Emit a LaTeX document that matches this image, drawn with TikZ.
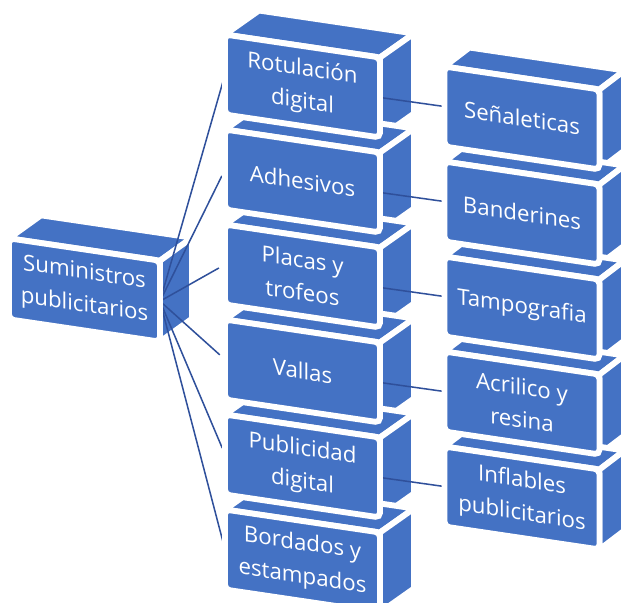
\documentclass[tikz,border=0pt]{standalone}
\usepackage{fontspec}
\setmainfont{Open Sans}
\usepackage{xcolor}
\usetikzlibrary{backgrounds, calc}

\definecolor{azul}{RGB}{68,114,196}
\definecolor{azulescuro}{RGB}{47,80,155}

% faces de cima e do lado de uma caixa
\newcommand{\cubo}[2]{%
  \path[cara] (#1.north west) -- (#1.north east) -- ++(#2) -- ($(#1.north west)+(#2)$) -- cycle;
  \path[cara] (#1.north east) -- ++(#2) -- ($(#1.south east)+(#2)$) -- (#1.south east) -- cycle;
}

\begin{document}
\begin{tikzpicture}[x=0.03cm, y=-0.03cm,
    every node/.style={font=\fontsize{19}{28}\selectfont, text=white}
  ]
  \tikzset{
    frente/.style={fill=azul, draw=white, line width=5pt, rounded corners=4pt, outer sep=0pt,
      inner sep=0pt, align=center, yslant=-0.148, minimum width=4.65cm, minimum height=2.4cm},
    cara/.style={fill=azul, draw=white, line width=5pt, line join=round},
    ligacao/.style={draw=azulescuro, line width=1.3pt}
  }
  \useasboundingbox (0,0) rectangle (621,602);

  % raiz
  \node[frente, minimum width=4.53cm, minimum height=2.43cm] (sum) at (84.5,290) {Suministros\\publicitarios};

  % segunda coluna
  \node[frente] (rot) at (302.5,86) {Rotulación\\digital};
  \node[frente] (adh) at (302.5,181) {Adhesivos};
  \node[frente] (pla) at (302.5,276) {Placas y\\trofeos};
  \node[frente] (val) at (302.5,371) {Vallas};
  \node[frente] (pub) at (302.5,466) {Publicidad\\digital};
  \node[frente] (bor) at (302.5,561) {Bordados y\\estampados};

  % terceira coluna
  \node[frente] (sen) at (522,118) {Señaleticas};
  \node[frente] (ban) at (522,213) {Banderines};
  \node[frente] (tam) at (522,308) {Tampografia};
  \node[frente] (acr) at (522,403) {Acrilico y\\resina};
  \node[frente] (inf) at (522,498) {Inflables\\publicitarios};

  \begin{scope}[on background layer]
    \cubo{sum}{32,-23}
    \cubo{rot}{34,-24}
    \cubo{adh}{34,-24}
    \cubo{pla}{34,-24}
    \cubo{val}{34,-24}
    \cubo{pub}{34,-24}
    \cubo{bor}{34,-24}
    \cubo{sen}{25,-19}
    \cubo{ban}{25,-19}
    \cubo{tam}{25,-19}
    \cubo{acr}{25,-19}
    \cubo{inf}{25,-19}

    \foreach \filho in {rot, adh, pla, val, pub, bor}
      \draw[ligacao, shorten >=6pt] (sum.east) -- (\filho.west);
    \draw[ligacao] (rot.east) -- (sen.west);
    \draw[ligacao] (adh.east) -- (ban.west);
    \draw[ligacao] (pla.east) -- (tam.west);
    \draw[ligacao] (val.east) -- (acr.west);
    \draw[ligacao] (pub.east) -- (inf.west);
  \end{scope}
\end{tikzpicture}
\end{document}
